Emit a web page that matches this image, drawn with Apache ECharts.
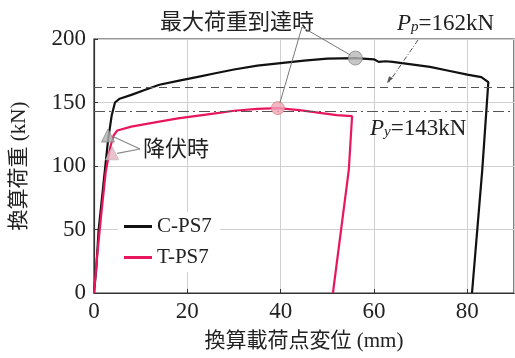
<!DOCTYPE html>
<html><head><meta charset="utf-8">
<script src="https://cdn.jsdelivr.net/npm/echarts@6/dist/echarts.min.js"></script>
<style>html,body{margin:0;padding:0;background:#fff}#c{width:515px;height:358px}</style>
</head><body><div id="c"></div>
<script>
const xTicks = [0, 20, 40, 60, 80];
const yTicks = [0, 50, 100, 150, 200];
const seriesNames = ['C-PS7', 'T-PS7'];
const cps7 = [[0,0],[0.5,20],[1,50],[2,85],[3,120],[3.8,140],[4.5,150],[5.5,153],[8,156],[11,160],[14,164],[18,167],[22,170],[26,173],[30,176],[35,179],[40,181],[45,183],[50,184.5],[56,185],[60,184],[61,182],[62.5,182.5],[64,182],[68,180],[72,178],[76,175],[80,172],[83,170],[84.5,166],[83.2,97],[81,0]];
const tps7 = [[0,0],[0.7,30],[1.5,60],[2.5,95],[3.5,115],[4.2,124],[5,128],[8,131],[11,133],[14,135],[18,137.5],[22,139.5],[26,141.5],[30,143.5],[35,145],[39.4,145.6],[44,144],[48,142],[52,140],[55.3,139.2],[54.6,97],[51.2,0]];
const yieldC = [[3,124]];
const yieldT = [[3.9,110]];
const maxC = [[56,185]];
const maxT = [[39.4,145.6]];
const Pp = 162, Py = 143;

const serif = '"Liberation Serif","Noto Sans CJK JP",serif';
const cjk = '"Noto Sans CJK JP","Liberation Serif",sans-serif';
const chart = echarts.init(document.getElementById('c'), null, {renderer:'canvas'});
const option = {
  animation:false,
  backgroundColor:'#fff',
  grid:{left:94, top:39, width:420, height:254, show:true, borderColor:'#333', borderWidth:1.2, backgroundColor:'transparent'},
  legend:{
    orient:'vertical', left:118, top:212, itemWidth:28, itemHeight:3, itemGap:10,
    backgroundColor:'#fff', padding:[4,8,4,6],
    data:seriesNames.map(n=>({name:n, icon:'rect'})),
    textStyle:{fontFamily:serif, fontSize:21, color:'#222'}
  },
  xAxis:{type:'value', min:0, max:90, interval:20,
    name:'換算載荷点変位 (mm)', nameLocation:'middle', nameGap:38,
    nameTextStyle:{fontFamily:serif, fontSize:21, color:'#222'},
    axisLine:{lineStyle:{color:'#333', width:1.2}},
    axisTick:{inside:true, length:4, lineStyle:{color:'#333'}},
    axisLabel:{fontFamily:serif, fontSize:23, color:'#222', margin:7, showMaxLabel:false},
    splitLine:{show:true, lineStyle:{color:'#cfcfcf', width:1}}
  },
  yAxis:{type:'value', min:0, max:200, interval:50,
    name:'換算荷重 (kN)', nameLocation:'middle', nameGap:64, nameRotate:90,
    nameTextStyle:{fontFamily:serif, fontSize:21, color:'#222'},
    axisLine:{lineStyle:{color:'#333', width:1.2}},
    axisTick:{inside:true, length:4, lineStyle:{color:'#333'}},
    axisLabel:{fontFamily:serif, fontSize:23, color:'#222', margin:8},
    splitLine:{show:true, lineStyle:{color:'#cfcfcf', width:1}}
  },
  series:[
    {name:seriesNames[0], type:'line', data:cps7, symbol:'none', lineStyle:{color:'#111', width:2.2}, itemStyle:{color:'#111'}, z:3,
     markLine:{silent:true, symbol:'none', label:{show:false},
       data:[{yAxis:Pp, lineStyle:{color:'#555', type:[8,5], width:1.2}},
             {yAxis:Py, lineStyle:{color:'#555', type:[11,4,2,4], width:1.2}}]}},
    {name:seriesNames[1], type:'line', data:tps7, symbol:'none', lineStyle:{color:'#e8175d', width:2.2}, itemStyle:{color:'#e8175d'}, z:3},
    {type:'scatter', data:maxC, symbol:'circle', symbolSize:14, itemStyle:{color:'#b8b8b8', borderColor:'#888', borderWidth:1}, z:5},
    {type:'scatter', data:maxT, symbol:'circle', symbolSize:13, itemStyle:{color:'#f1a3b5', borderColor:'#d88', borderWidth:1}, z:5},
    {type:'scatter', data:yieldC, symbol:'triangle', symbolSize:13, itemStyle:{color:'#b0b0b0', borderColor:'#888', borderWidth:1}, z:5},
    {type:'scatter', data:yieldT, symbol:'triangle', symbolSize:13, itemStyle:{color:'#e9b3bf', borderColor:'#bbb', borderWidth:1}, z:5}
  ]
};
chart.setOption(option);

const P = p => chart.convertToPixel({gridIndex:0}, p);
const a1 = P(maxC[0]), a2 = P(maxT[0]), y1 = P(yieldC[0]), y2 = P(yieldT[0]);
const ppLine = P([63, Pp]);
const g = [];
const maxTxt = [302, 27];
g.push({type:'text', left:160, top:10, style:{text:'最大荷重到達時', font:'22px '+cjk, fill:'#222'}, z:10});
g.push({type:'line', shape:{x1:maxTxt[0], y1:maxTxt[1], x2:a1[0]-5, y2:a1[1]-3}, style:{stroke:'#777', lineWidth:1}, z:10});
g.push({type:'line', shape:{x1:maxTxt[0], y1:maxTxt[1], x2:a2[0]+2, y2:a2[1]-5}, style:{stroke:'#777', lineWidth:1}, z:10});
g.push({type:'text', left:143, top:137, style:{text:'降伏時', font:'22px '+cjk, fill:'#222'}, z:10});
g.push({type:'line', shape:{x1:140, y1:149, x2:y1[0]+5, y2:y1[1]+1}, style:{stroke:'#888', lineWidth:1.2}, z:10});
g.push({type:'line', shape:{x1:140, y1:149, x2:y2[0]+5, y2:y2[1]}, style:{stroke:'#888', lineWidth:1.2}, z:10});
g.push({type:'text', left:397, top:12, style:{rich:{
  p:{font:'italic 23px '+serif, fill:'#222'}, s:{font:'italic 15px '+serif, fill:'#222', padding:[8,0,0,0]}, n:{font:'23px '+serif, fill:'#222'}},
  text:'{p|P}{s|p}{n|=162kN}'}, z:10});
g.push({type:'line', shape:{x1:418, y1:40, x2:ppLine[0]+1, y2:ppLine[1]-5}, style:{stroke:'#555', lineWidth:1, lineDash:[5,2,1,2]}, z:10});
g.push({type:'polygon', shape:{points:[[ppLine[0]-1,ppLine[1]-4],[ppLine[0]+5,ppLine[1]-9],[ppLine[0]+1,ppLine[1]-11]]}, style:{fill:'#555'}, z:10});
g.push({type:'text', left:370, top:117, style:{rich:{
  p:{font:'italic 23px '+serif, fill:'#222'}, s:{font:'italic 15px '+serif, fill:'#222', padding:[8,0,0,0]}, n:{font:'23px '+serif, fill:'#222'}},
  text:'{p|P}{s|y}{n|=143kN}'}, z:10});
chart.setOption({graphic:g});
</script></body></html>
